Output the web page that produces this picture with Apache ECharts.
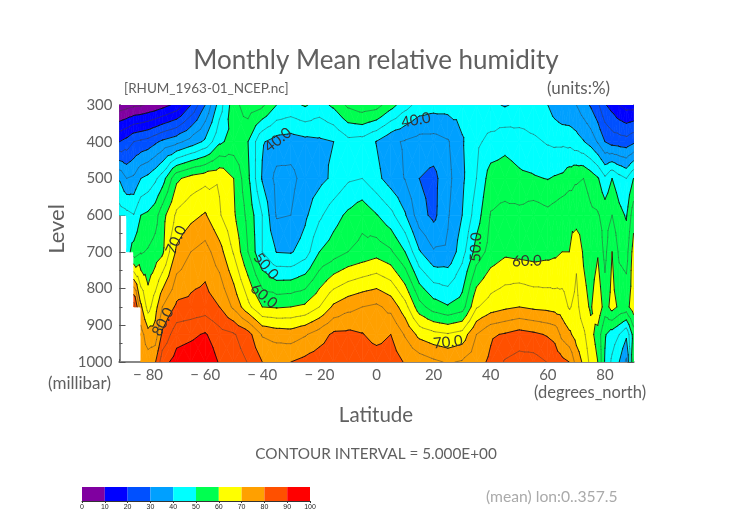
<!DOCTYPE html>
<html>
<head>
<meta charset="utf-8">
<style>
  html, body { margin: 0; padding: 0; background: #fff; }
  #chart { width: 752px; height: 532px; }
</style>
<script src="https://cdn.jsdelivr.net/npm/echarts@6/dist/echarts.min.js"></script>
</head>
<body>
<div id="chart"></div>
<script>
// grid of the data
var lats = [-90,-87.5,-85,-82.5,-80,-77.5,-75,-70,-65,-60,-55,-50,-45,-40,-35,-30,-25,-20,-15,-10,-5,0,5,10,15,20,25,30,35,40,45,50,55,60,62.5,65,67.5,70,72.5,75,77.5,80,82.5,85,87.5,90];
var levels = [300,400,500,600,700,850,925,1000];

var rh300 = [2,3,4,4.5,5.5,6.5,8,11.5,20,30,42.5,53,58,56,50,48.5,50.5,48,51,56,58,57,52,47,43,42,42,42,41.5,41,39.6,41,41,40,37.5,35.5,35.5,35,32,29.5,26,20.5,18,15,13,13];
var rh400 = [20,22,25,26,27,29,31,33.5,37,41,49,52,50,40.5,38,37.5,38.5,39,40,43.5,43,39.8,36,34.5,33,33,34.5,39.5,44,46.5,48.5,47.5,46,44.5,44,44,43.5,42,40.3,38,34.5,30,28,27.5,27,29];
var rh500 = [39.5,35,36,40,41.5,44,47.5,59,62,63.5,64.5,60,51,39.5,33.5,33.5,37,38.5,41,44.2,45,41.5,37.5,34.8,30,28.5,33.5,39,45,52.5,52.5,51,50.5,49.8,50.5,51,53,54.5,55,53,50.5,46,50,47,45,50];
var rh600 = [47.5,46.5,45.2,50,51,53,58,66,68.5,70.5,65.5,60.8,53.5,45,34.5,35,39,44,48,51,53.5,50.3,46.5,40.5,32,28.7,34.5,40,47.5,55.3,56.5,56.5,58,56.5,57.5,59,59,57.5,58,56,55.5,53,55,51.5,49.5,58];
var rh700 = [null,48,52,54.5,55.5,57,59,71,75,77,72,64.5,55,45,39.8,39.5,42.5,50,52.5,55,56.5,58,55.8,50,40.5,35.5,35.8,43,52,57,59,58.5,58,58.5,59,60,60,64,59.3,57,59.5,53.5,60,54,53,62];
var rh850 = [null,null,88,71,63,68,75,81,81.7,82.5,80,74,66.5,60,59.5,60,61,65,71,73.5,75,76,73.5,67,57,52.5,50.5,52.5,64.5,67.5,69,70,69,68.5,68,67.5,64.5,66.5,62,59.3,64,57.5,62,59,58,63];
var rh925 = [null,null,null,77,72,72,81,88,89,90.5,87,85.5,82,74.5,73,72.5,74.5,77.5,81,81.2,80.3,78,80,74.5,68.5,66.5,65.5,67,75,79.3,80.5,82,81,79.5,78.5,73.5,71,68,66,61.5,58,50.5,47.5,45,41,52];
var rh1000 = [null,null,null,78,77.5,79.5,88,92,93,94,89.5,87.5,84.8,80,79.5,80,81.5,83,84,84,83.5,83,83,79.5,78,76,74.5,75.5,78,81,85.5,87,87,84.8,83,81.5,80,73,69,63.5,60,49.5,44,40,34,55];
var rhRows = [rh300, rh400, rh500, rh600, rh700, rh850, rh925, rh1000];

var bandEdges = [0,10,20,30,40,50,60,70,80,90,100];
var bandColors = ['#8000a0','#0000ff','#0050ff','#00a0ff','#00ffff','#00ff50','#ffff00','#ffa000','#ff5000','#ff0000'];
var contourLevels = [5,10,15,20,25,30,35,40,45,50,55,60,65,70,75,80,85,90,95];

var latTicks = [-80,-60,-40,-20,0,20,40,60,80];
var levelTicks = [300,400,500,600,700,800,900,1000];

// contour labels: latitude, level, text, rotation in degrees
var contourLabels = [
  [-34.5,395,'40.0',38],
  [13.8,341,'40.0',10],
  [-70.2,668,'70.0',65],
  [-38.7,739,'50.0',-50],
  [-39.4,820,'60.0',-40],
  [-74.8,891,'80.0',62],
  [34.8,687,'50.0',88],
  [52.7,725,'60.0',2],
  [25,946,'70.0',6]
];

var chart = echarts.init(document.getElementById('chart'));

var cells = [];
var cellPos = [];
for (var j = 0; j < levels.length - 1; j++) {
  for (var i = 0; i < lats.length - 1; i++) {
    if (rhRows[j][i] == null || rhRows[j][i+1] == null || rhRows[j+1][i] == null || rhRows[j+1][i+1] == null) continue;
    cells.push([lats[i], levels[j]]);
    cellPos.push([i, j]);
  }
}

// a cell is cut in 4 triangles around its centre
function cellTriangles(api, n) {
  var i = cellPos[n][0], j = cellPos[n][1];
  var c = [[i,j],[i+1,j],[i+1,j+1],[i,j+1]].map(function (p) {
    var xy = api.coord([lats[p[0]], levels[p[1]]]);
    return {x: xy[0], y: xy[1], v: rhRows[p[1]][p[0]]};
  });
  var mid = {
    x: (c[0].x + c[2].x) / 2,
    y: (c[0].y + c[2].y) / 2,
    v: (c[0].v + c[1].v + c[2].v + c[3].v) / 4
  };
  return [[c[0],c[1],mid],[c[1],c[2],mid],[c[2],c[3],mid],[c[3],c[0],mid]];
}

function cross(a, b, level) {
  var t = (level - a.v) / (b.v - a.v);
  return {x: a.x + (b.x - a.x) * t, y: a.y + (b.y - a.y) * t, v: level};
}

function clipAbove(poly, level, sign) {
  var out = [];
  for (var k = 0; k < poly.length; k++) {
    var a = poly[k], b = poly[(k + 1) % poly.length];
    var inA = (a.v - level) * sign >= 0, inB = (b.v - level) * sign >= 0;
    if (inA) out.push(a);
    if (inA != inB) out.push(cross(a, b, level));
  }
  return out;
}

function renderBands(params, api) {
  var kids = [];
  cellTriangles(api, params.dataIndex).forEach(function (tri) {
    for (var b = 0; b < bandColors.length; b++) {
      var poly = clipAbove(tri, bandEdges[b], 1);
      if (poly.length) poly = clipAbove(poly, bandEdges[b+1], -1);
      if (poly.length < 3) continue;
      kids.push({
        type: 'polygon',
        shape: {points: poly.map(function (p) { return [p.x, p.y]; })},
        style: {fill: bandColors[b], stroke: bandColors[b], lineWidth: 0.7}
      });
    }
  });
  return {type: 'group', children: kids};
}

function renderLines(params, api) {
  var kids = [];
  cellTriangles(api, params.dataIndex).forEach(function (tri) {
    contourLevels.forEach(function (c) {
      var pts = [];
      for (var k = 0; k < 3; k++) {
        var a = tri[k], b = tri[(k + 1) % 3];
        if ((a.v < c) != (b.v < c)) pts.push(cross(a, b, c));
      }
      if (pts.length != 2) return;
      var major = c % 10 == 0;
      kids.push({
        type: 'line',
        shape: {x1: pts[0].x, y1: pts[0].y, x2: pts[1].x, y2: pts[1].y},
        style: {stroke: major ? '#111' : '#3a3a3a', lineWidth: major ? 0.9 : 0.5, opacity: major ? 1 : 0.9, lineCap: 'round'}
      });
    });
  });
  return {type: 'group', children: kids};
}

function renderLabel(params, api) {
  var xy = api.coord([api.value(0), api.value(1)]);
  var row = contourLabels[params.dataIndex];
  return {
    type: 'text',
    x: xy[0], y: xy[1],
    rotation: row[3] * Math.PI / 180,
    style: {text: row[2], font: '15px Lato', fill: '#333', align: 'center', verticalAlign: 'middle'}
  };
}

function renderBar(params, api) {
  var p0 = api.coord([api.value(0), 0]);
  var p1 = api.coord([api.value(1), 1]);
  return {
    type: 'rect',
    shape: {x: p0[0], y: p1[1], width: p1[0] - p0[0], height: p0[1] - p1[1]},
    style: {fill: bandColors[params.dataIndex]}
  };
}

function plainText(text, x, y, size, color, align) {
  return {
    type: 'text', x: x, y: y,
    style: {text: text, font: size + 'px Lato', fill: color || '#606060', align: align || 'left', verticalAlign: 'middle'}
  };
}

function latAxis(pos, major) {
  return {
    type: 'value', gridIndex: 0, position: pos, min: -90, max: 90, interval: 10,
    axisLine: {show: true, onZero: false, lineStyle: {color: pos == 'top' ? '#444' : '#888', width: pos == 'top' ? 1 : 2}},
    axisTick: major
      ? {show: true, inside: true, length: 6, customValues: latTicks, lineStyle: {color: '#555'}}
      : {show: true, inside: true, length: 3, lineStyle: {color: '#555'}},
    axisLabel: major && pos == 'bottom'
      ? {show: true, customValues: latTicks, fontSize: 15, margin: 6, color: '#606060', fontFamily: 'Lato',
         formatter: function (v) { return String(v).replace('-', '\u2212 '); }}
      : {show: false},
    splitLine: {show: false}
  };
}

function levelAxis(pos, major) {
  return {
    type: 'value', gridIndex: 0, position: pos, inverse: true, min: 300, max: 1000, interval: major ? 100 : 50,
    axisLine: {show: true, onZero: false, lineStyle: {color: pos == 'left' ? '#888' : '#999', width: pos == 'left' ? 2 : 1}},
    axisTick: {show: true, inside: true, length: major ? 6 : 3, lineStyle: {color: '#555'}},
    axisLabel: major && pos == 'left'
      ? {show: true, customValues: levelTicks, fontSize: 15, margin: 7, color: '#606060', fontFamily: 'Lato',
         formatter: function (v) { return String(v); }}
      : {show: false},
    splitLine: {show: false}
  };
}

var barSpans = bandColors.map(function (c, n) { return [bandEdges[n], bandEdges[n+1]]; });

var option = {
  animation: false,
  backgroundColor: '#fff',
  grid: [
    {left: 119.5, top: 105, width: 514, height: 257},
    {left: 82, top: 487, width: 228, height: 14}
  ],
  xAxis: [
    latAxis('bottom', true), latAxis('bottom', false), latAxis('top', true), latAxis('top', false),
    {
      type: 'value', gridIndex: 1, position: 'bottom', min: 0, max: 100, interval: 10,
      axisLine: {show: true, onZero: false, lineStyle: {color: '#333'}},
      axisTick: {show: true, length: 2, lineStyle: {color: '#333'}},
      axisLabel: {show: true, fontSize: 7, margin: 3, color: '#222', fontFamily: 'Liberation Sans'},
      splitLine: {show: false}
    }
  ],
  yAxis: [
    levelAxis('left', true), levelAxis('left', false), levelAxis('right', true), levelAxis('right', false),
    {type: 'value', gridIndex: 1, min: 0, max: 1, show: false}
  ],
  graphic: {elements: [
    plainText('Monthly Mean relative humidity', 376, 61, 26, '#606060', 'center'),
    plainText('[RHUM_1963-01_NCEP.nc]', 124, 89, 13.5),
    plainText('(units:%)', 547, 89, 17),
    {type: 'text', x: 57, y: 229, rotation: Math.PI / 2,
      style: {text: 'Level', font: '22px Lato', fill: '#606060', align: 'center', verticalAlign: 'middle'}},
    plainText('(millibar)', 48, 384, 17),
    plainText('Latitude', 376, 415, 20.5, '#606060', 'center'),
    plainText('(degrees_north)', 534, 393, 16.5),
    plainText('CONTOUR INTERVAL = 5.000E+00', 376, 454, 15.3, '#606060', 'center'),
    plainText('(mean) lon:0..357.5', 486, 497, 15.7, '#aaa')
  ]},
  series: [
    {type: 'custom', name: 'bands', xAxisIndex: 0, yAxisIndex: 0, clip: true, silent: true, z: 2, data: cells, renderItem: renderBands},
    {type: 'custom', name: 'contours', xAxisIndex: 0, yAxisIndex: 0, clip: true, silent: true, z: 3, data: cells, renderItem: renderLines},
    {type: 'custom', name: 'labels', xAxisIndex: 0, yAxisIndex: 0, silent: true, z: 4, data: contourLabels.map(function (r) { return [r[0], r[1]]; }), renderItem: renderLabel},
    {type: 'custom', name: 'colorbar', xAxisIndex: 4, yAxisIndex: 4, silent: true, data: barSpans, renderItem: renderBar}
  ]
};
chart.setOption(option);
</script>
</body>
</html>
